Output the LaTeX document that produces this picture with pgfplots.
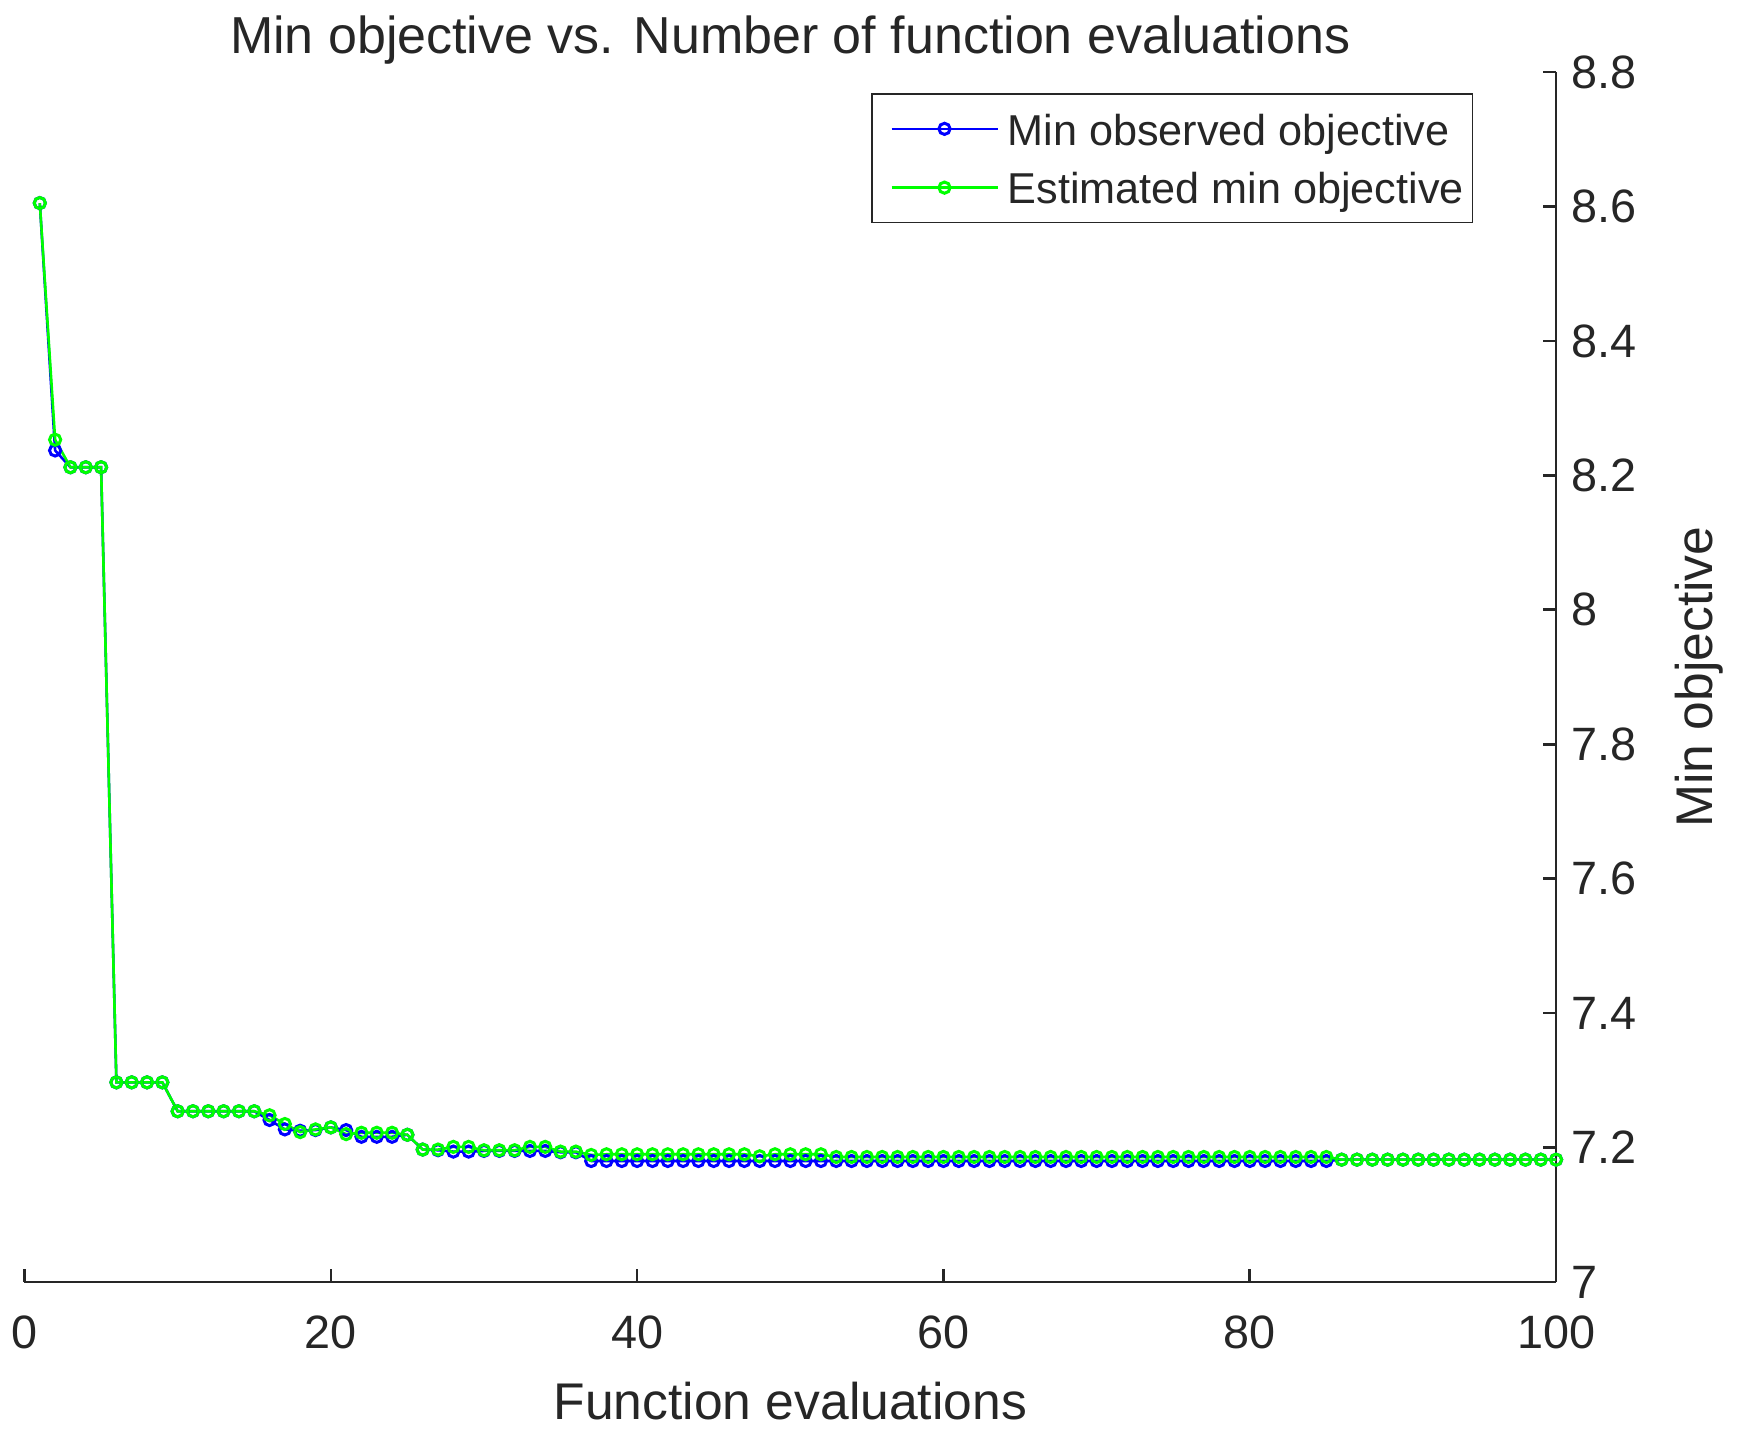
\documentclass[border=0pt]{standalone}
\usepackage{fontspec}
\setmainfont{Liberation Sans}
\usepackage{pgfplots}
\usepackage{pgfplotstable}
\pgfplotsset{compat=1.18}
\definecolor{axgray}{rgb}{0.15,0.15,0.15}
\definecolor{mblue}{rgb}{0,0,1}
\definecolor{mgreen}{rgb}{0,1,0}

\pgfplotstableread{
x obs est
1 8.605 8.605
2 8.237 8.253
3 8.212 8.212
4 8.212 8.212
5 8.212 8.212
6 7.297 7.297
7 7.297 7.297
8 7.297 7.297
9 7.297 7.297
10 7.254 7.254
11 7.254 7.254
12 7.254 7.254
13 7.254 7.254
14 7.254 7.254
15 7.254 7.254
16 7.241 7.248
17 7.227 7.235
18 7.225 7.223
19 7.226 7.227
20 7.230 7.230
21 7.226 7.220
22 7.216 7.222
23 7.216 7.222
24 7.216 7.222
25 7.219 7.219
26 7.197 7.197
27 7.196 7.197
28 7.194 7.201
29 7.194 7.201
30 7.195 7.196
31 7.195 7.196
32 7.195 7.196
33 7.195 7.201
34 7.195 7.201
35 7.193 7.194
36 7.193 7.194
37 7.180 7.189
38 7.180 7.190
39 7.180 7.190
40 7.180 7.190
41 7.180 7.190
42 7.180 7.190
43 7.180 7.190
44 7.180 7.190
45 7.180 7.190
46 7.180 7.190
47 7.180 7.190
48 7.180 7.187
49 7.180 7.190
50 7.180 7.190
51 7.180 7.190
52 7.180 7.190
53 7.180 7.186
54 7.180 7.186
55 7.180 7.186
56 7.180 7.186
57 7.180 7.186
58 7.180 7.186
59 7.180 7.186
60 7.180 7.186
61 7.180 7.186
62 7.180 7.186
63 7.180 7.186
64 7.180 7.186
65 7.180 7.186
66 7.180 7.186
67 7.180 7.186
68 7.180 7.186
69 7.180 7.186
70 7.180 7.186
71 7.180 7.186
72 7.180 7.186
73 7.180 7.186
74 7.180 7.186
75 7.180 7.186
76 7.180 7.186
77 7.180 7.186
78 7.180 7.186
79 7.180 7.186
80 7.180 7.186
81 7.180 7.186
82 7.180 7.186
83 7.180 7.186
84 7.180 7.186
85 7.180 7.186
86 7.182 7.182
87 7.182 7.182
88 7.182 7.182
89 7.182 7.182
90 7.182 7.182
91 7.182 7.182
92 7.182 7.182
93 7.182 7.182
94 7.182 7.182
95 7.182 7.182
96 7.182 7.182
97 7.182 7.182
98 7.182 7.182
99 7.182 7.182
100 7.182 7.182
}\datatable

\begin{document}
\begin{tikzpicture}
\useasboundingbox (0,0) rectangle (434.5pt,359.5pt);
\begin{axis}[
  at={(6.125pt,39pt)}, anchor=south west,
  scale only axis, width=382.9pt, height=302.5pt,
  xmin=0, xmax=100, ymin=7, ymax=8.8,
  axis x line*=bottom, axis y line*=right,
  axis line style={axgray, line width=0.65pt},
  tick align=inside, major tick length=3.3pt,
  tick style={axgray, line width=0.65pt},
  xtick={0,20,40,60,80,100},
  ytick={7,7.2,7.4,7.6,7.8,8,8.2,8.4,8.6,8.8},
  /pgf/number format/assume math mode=true,
  tick label style={font=\fontsize{11.7}{14}\selectfont, text=axgray},
  xticklabel style={anchor=base, yshift=-16.6pt},
  yticklabel style={anchor=west, xshift=0.3pt},
  title={Min objective vs. Number of function evaluations},
  title style={at={(axis description cs:0.5,1)}, anchor=base, yshift=-1.4pt, font=\fontsize{13}{15.6}\selectfont, text=axgray},
  xlabel={Function evaluations},
  xlabel style={at={(axis description cs:0.5,0)}, anchor=base, yshift=-34.4pt, font=\fontsize{12.9}{15}\selectfont, text=axgray},
  ylabel={Min objective},
  ylabel style={at={(axis description cs:1.0935,0.5)}, anchor=center, font=\fontsize{12.9}{15}\selectfont, text=axgray},
  legend cell align=left,
  legend style={at={(axis description cs:0.946,0.9826)}, anchor=north east,
    draw=axgray, fill=white, inner xsep=0pt, inner ysep=1.4pt,
    font=\fontsize{10.8}{13}\selectfont,
    nodes={inner ysep=2pt, inner xsep=2.2pt, text height=9.4pt, text depth=1.3pt, text=axgray}},
  legend image code/.code={\path (0pt,0pt); \draw[mark repeat=2,mark phase=2] plot coordinates {(4.5pt,0pt)(17.75pt,0pt)(31pt,0pt)};},
]
\addplot[mblue, line width=0.65pt, mark=o, mark size=1.4pt, mark options={solid, line width=0.75pt}] table[x=x,y=obs]{\datatable};
\addlegendentry{Min observed objective}
\addplot[mgreen, line width=0.65pt, mark=o, mark size=1.4pt, mark options={solid, line width=0.75pt}] table[x=x,y=est]{\datatable};
\addlegendentry{Estimated min objective}
\end{axis}
\end{tikzpicture}
\end{document}
